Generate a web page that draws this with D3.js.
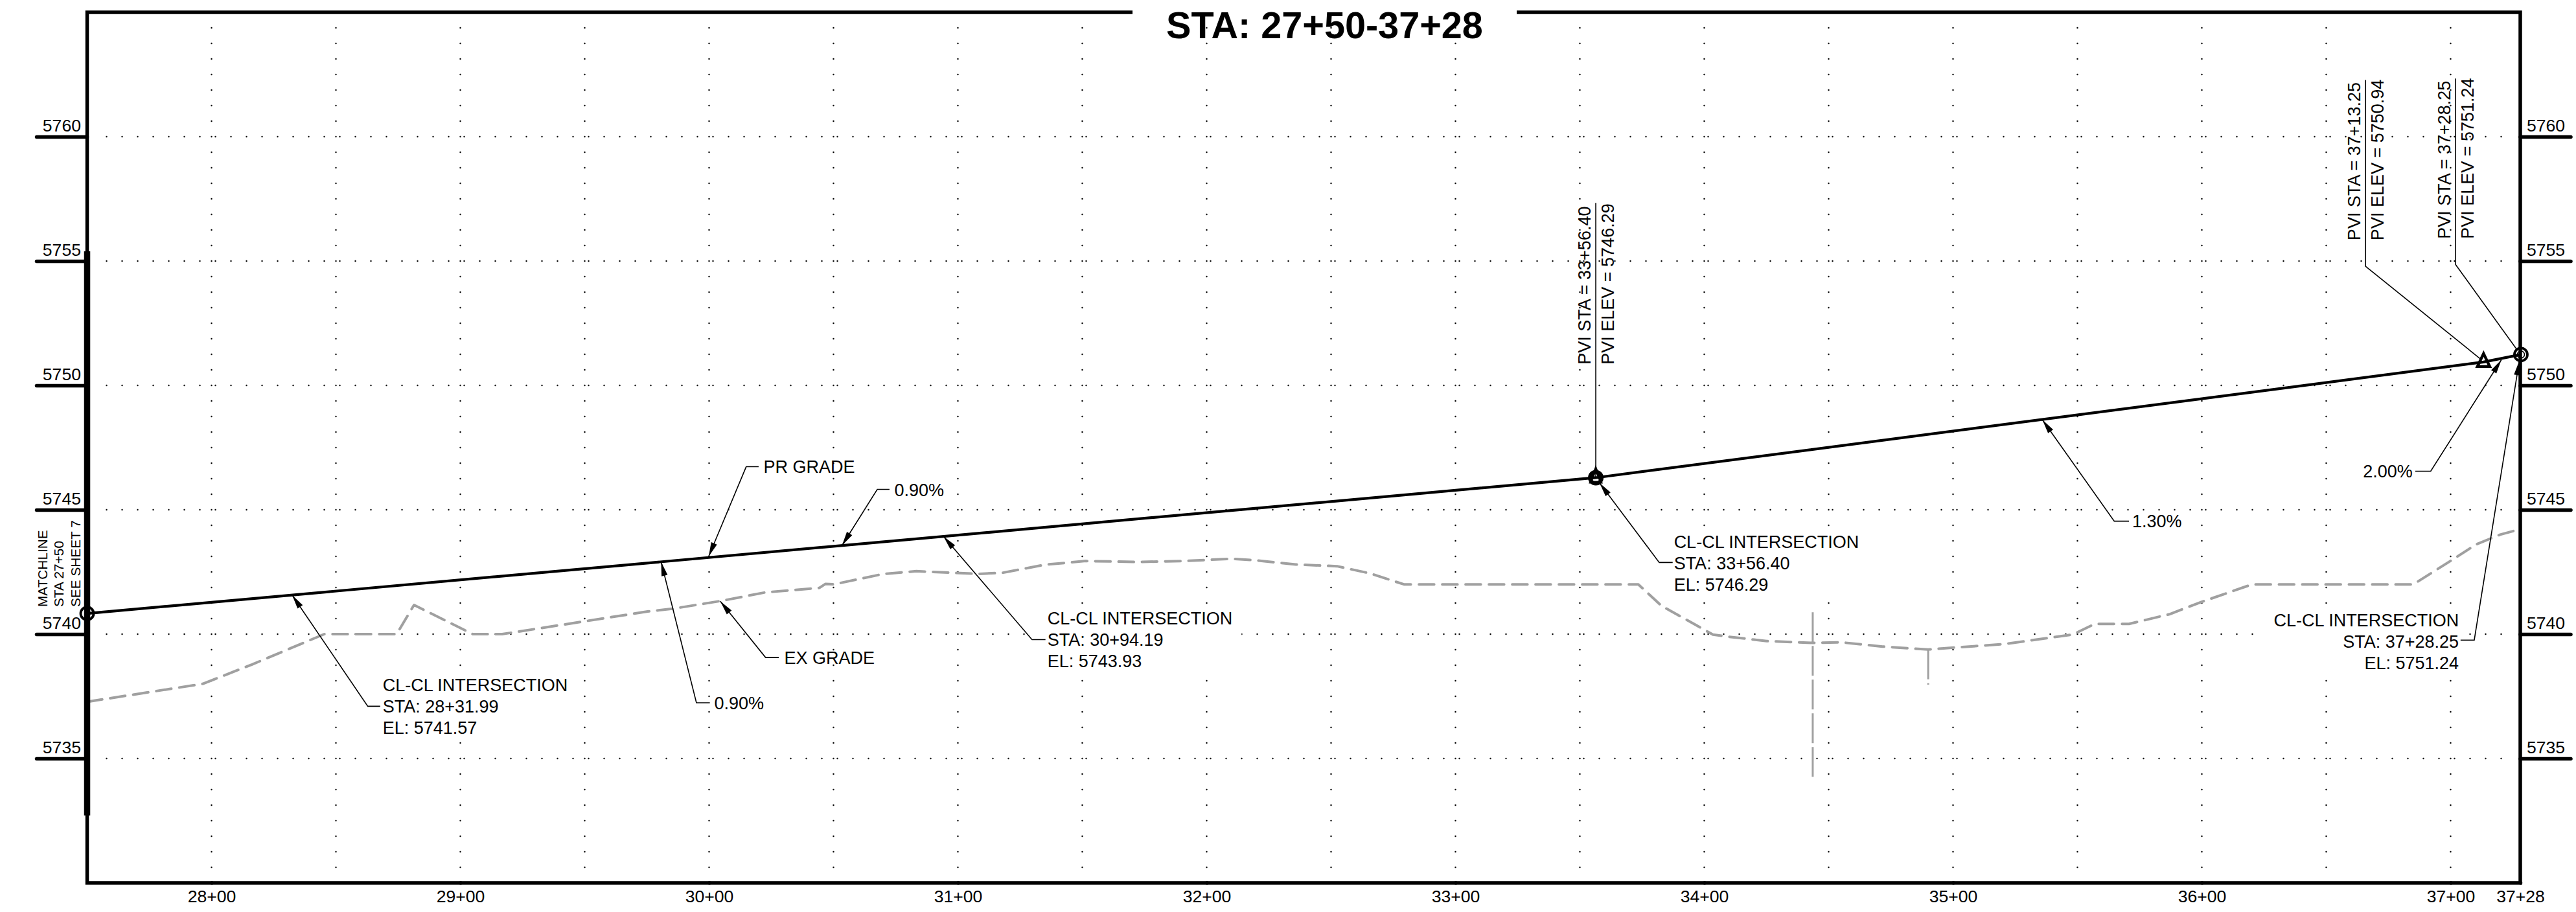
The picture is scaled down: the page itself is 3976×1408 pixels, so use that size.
<!DOCTYPE html>
<html>
<head>
<meta charset="utf-8">
<script src="https://cdn.jsdelivr.net/npm/d3@7"></script>
<style>
html,body{margin:0;padding:0;background:#fff}
svg{display:block}
text{font-family:"Liberation Sans",Arial,sans-serif;fill:#000}
</style>
</head>
<body>
<script>
// ---------- chart values (station in feet, elevation in feet) ----------
const titleText = "STA: 27+50-37+28";
const stationTicks = [2800,2900,3000,3100,3200,3300,3400,3500,3600,3700,3728];
const elevationTicks = [5735,5740,5745,5750,5755,5760];
const gridStations = [2800,2850,2900,2950,3000,3050,3100,3150,3200,3250,3300,3350,3400,3450,3500,3550,3600,3650,3700];

const proposedStation = [2750,3356.40,3713.25,3728.25];
const proposedElevation = [5740.83,5746.29,5750.94,5751.24];

const existingStation = [2750,2796.4,2816.3,2845.3,2874.4,2881.4,2905,2916.8,2975.3,2985.3,3004.5,3022.7,3044.3,3046.8,3050.1,3070,3083.3,3108.2,3118.2,3134.8,3151.4,3171.4,3191.3,3209.5,3219.5,3235.8,3252.4,3265.7,3279.3,3373.5,3382.8,3403.5,3408.5,3425.1,3443.4,3455.1,3471.6,3490,3496.2,3520.5,3548,3557,3570.7,3587,3600,3620.2,3685,3700.4,3710.1,3719.9,3728];
const existingElevation = [5737.28,5738,5738.78,5740,5740,5741.17,5740,5740,5740.91,5741.02,5741.33,5741.68,5741.86,5742.02,5742,5742.42,5742.53,5742.42,5742.47,5742.79,5742.94,5742.9,5742.94,5743.03,5742.97,5742.8,5742.73,5742.44,5742,5742,5741.14,5739.98,5739.91,5739.72,5739.65,5739.67,5739.5,5739.38,5739.43,5739.6,5739.98,5740.41,5740.41,5740.8,5741.3,5742,5742,5742.97,5743.6,5744,5744.22];

const spurStation = [3443.6,3490];
const spurTop = [5740.88,5739.38];
const spurBottom = [5734.25,5737.97];

const matchlineStation = 2750;
const matchlineElevation = [5755.39,5732.71];
const matchlineLines = ["MATCHLINE","STA 27+50","SEE SHEET 7"];

// callouts: label lines, arrow tip, elbow, leader end, text anchor
const calloutLines = [
  ["CL-CL INTERSECTION","STA: 28+31.99","EL: 5741.57"],
  ["PR GRADE"],
  ["0.90%"],
  ["CL-CL INTERSECTION","STA: 30+94.19","EL: 5743.93"],
  ["EX GRADE"],
  ["0.90%"],
  ["CL-CL INTERSECTION","STA: 33+56.40","EL: 5746.29"],
  ["1.30%"],
  ["2.00%"],
  ["CL-CL INTERSECTION","STA: 37+28.25","EL: 5751.24"]
];
const calloutAlign = ["start","start","start","start","start","start","start","start","end","end"];
const calloutMasked = [true,false,false,true,false,false,true,false,false,true];
const tipStation = [2832.4,2999.8,3053.4,3094.19,3004.5,2980.7,3357.9,3535.9,3720.4,3727.6];
const tipElevation = [5741.57,5743.12,5743.56,5743.93,5741.32,5742.91,5746.08,5748.62,5751.03,5750.98];
const elbowStation = [2862.8,3014.9,3067.6,3129.8,3022.7,2994.9,3381.9,3564.8,3692,3709.5];
const elbowElevation = [5737.1,5746.73,5745.82,5739.78,5739.06,5737.24,5742.88,5744.54,5746.55,5739.76];
const endStation = [2867.8,3019.9,3072.5,3135.2,3028,3000.3,3387.3,3570.7,3685.8,3704];
const textStation = [2868.8,3021.9,3074.5,3136,3030.2,3002.1,3387.8,3572,3684.7,3703.3];
const textElevation = [5737.72,5746.49,5745.55,5740.39,5738.8,5736.99,5743.47,5744.29,5746.3,5740.32];

// PVI labels: leader top, optional elbow, foot on the profile
const pviStation = ["PVI STA = 33+56.40","PVI STA = 37+13.25","PVI STA = 37+28.25"];
const pviElevation = ["PVI ELEV = 5746.29","PVI ELEV = 5750.94","PVI ELEV = 5751.24"];
const pviLeaderStation = [3356.4,3665.8,3702];
const pviLeaderTop = [5757.34,5762.28,5762.34];
const pviElbow = [5746.29,5754.79,5754.86];
const pviFootStation = [3356.4,3711.8,3726.7];
const pviFootElevation = [5746.29,5751.08,5751.43];
const pviTextElevation = [5750.84,5755.83,5755.89];

// ---------- drawing ----------
const W = 3976, H = 1408;
const x = d3.scaleLinear().domain([2750,3728]).range([134.5,3890]);
const y = d3.scaleLinear().domain([5730,5765]).range([1363,19]);
const fmtSta = s => Math.floor(s/100) + "+" + String(s%100).padStart(2,"0");

const svg = d3.select("body").append("svg").attr("width",W).attr("height",H).attr("viewBox",`0 0 ${W} ${H}`);
svg.append("rect").attr("width",W).attr("height",H).attr("fill","#fff");

// dotted grid
const DOT = 24, gridG = svg.append("g");
const rows = d3.range(y(5765)+DOT, y(5730)-DOT+1, DOT);
gridG.selectAll("circle.v").data(d3.cross(gridStations, rows)).join("circle").attr("class","v")
  .attr("cx",d=>x(d[0])).attr("cy",d=>d[1]).attr("r",1.2).attr("fill","#000");
const cols = d3.range(x(2750)+30, x(3700)+80, DOT);
gridG.selectAll("circle.h").data(d3.cross(elevationTicks, cols)).join("circle").attr("class","h")
  .attr("cx",d=>d[1]).attr("cy",d=>y(d[0])).attr("r",1.2).attr("fill","#000");

const maskG = svg.append("g");

// existing grade
const line = d3.line().x(d=>x(d[0])).y(d=>y(d[1]));
const grey = "#a0a0a0";
svg.append("path").datum(d3.zip(existingStation,existingElevation)).attr("d",line)
  .attr("fill","none").attr("stroke",grey).attr("stroke-width",4)
  .attr("stroke-linecap","round").attr("stroke-linejoin","round").attr("stroke-dasharray","23.5 12.5");
svg.selectAll("path.spur").data(spurStation).join("path").attr("class","spur")
  .attr("d",(d,i)=>line([[d,spurTop[i]],[d,spurBottom[i]]]))
  .attr("fill","none").attr("stroke",grey).attr("stroke-width",3).attr("stroke-dasharray","46 6");

// frame
svg.append("rect").attr("x",x(2750)).attr("y",y(5765)).attr("width",x(3728)-x(2750)).attr("height",y(5730)-y(5765))
  .attr("fill","none").attr("stroke","#000").attr("stroke-width",5.5);
svg.append("path").datum([[matchlineStation,matchlineElevation[0]],[matchlineStation,matchlineElevation[1]]])
  .attr("d",line).attr("stroke","#000").attr("stroke-width",9.5).attr("fill","none");

// axes
function styleAxis(g){
  g.select(".domain").remove();
  g.selectAll(".tick line").attr("stroke","#000").attr("stroke-width",5.5).attr("stroke-linecap","round");
  g.selectAll(".tick text").attr("font-size",26.6).attr("font-family","Liberation Sans").attr("fill","#000");
}
svg.append("g").attr("transform",`translate(${x(2750)},0)`)
  .call(d3.axisLeft(y).tickValues(elevationTicks).tickSize(78).tickFormat(d3.format("d")))
  .call(styleAxis).call(g=>g.selectAll(".tick text").attr("x",-9.5).attr("y",-9).attr("dy",0));
svg.append("g").attr("transform",`translate(${x(3728)},0)`)
  .call(d3.axisRight(y).tickValues(elevationTicks).tickSize(78).tickFormat(d3.format("d")))
  .call(styleAxis).call(g=>g.selectAll(".tick text").attr("x",10).attr("y",-9).attr("dy",0));
svg.append("g").attr("transform",`translate(0,${y(5730)})`)
  .call(d3.axisBottom(x).tickValues(stationTicks).tickSize(0).tickFormat(fmtSta))
  .call(styleAxis).call(g=>g.selectAll(".tick text").attr("y",30).attr("dy",0));

// title
svg.append("rect").attr("x",1748).attr("y",8).attr("width",593).attr("height",24).attr("fill","#fff");
svg.append("text").attr("x",2044.5).attr("y",59).attr("text-anchor","middle")
  .attr("font-size",57.6).attr("font-weight","bold").text(titleText);

// proposed grade
svg.append("path").datum(d3.zip(proposedStation,proposedElevation)).attr("d",line)
  .attr("fill","none").attr("stroke","#000").attr("stroke-width",4.2);

// markers
const mark = svg.append("g").attr("fill","none").attr("stroke","#000");
mark.append("circle").attr("cx",x(proposedStation[0])).attr("cy",y(proposedElevation[0])).attr("r",10).attr("stroke-width",3.8);
const px1 = x(proposedStation[1]), py1 = y(proposedElevation[1]);
mark.append("circle").attr("cx",px1).attr("cy",py1).attr("r",9).attr("stroke-width",6);
mark.append("path").attr("d",`M${px1},${py1-14}L${px1+8},${py1+7}L${px1-8},${py1+7}Z`).attr("stroke-width",4);
const px2 = x(proposedStation[2]), py2 = y(proposedElevation[2]);
mark.append("path").attr("d",`M${px2},${py2-13}L${px2+9.5},${py2+7}L${px2-9.5},${py2+7}Z`).attr("stroke-width",4.4).attr("stroke-linejoin","miter");
const px3 = x(proposedStation[3]), py3 = y(proposedElevation[3]);
mark.append("circle").attr("cx",px3).attr("cy",py3).attr("r",10).attr("stroke-width",3.8);
mark.append("circle").attr("cx",px3).attr("cy",py3).attr("r",5.5).attr("stroke-width",1.6);

// callouts
const LINE_H = 33, LABEL = 27;
const callG = svg.append("g");
calloutLines.forEach((lines,i)=>{
  const tip=[x(tipStation[i]),y(tipElevation[i])], elb=[x(elbowStation[i]),y(elbowElevation[i])], end=[x(endStation[i]),y(elbowElevation[i])];
  callG.append("path").attr("d",d3.line()([tip,elb,end])).attr("fill","none").attr("stroke","#000").attr("stroke-width",1.6);
  const a=Math.atan2(elb[1]-tip[1],elb[0]-tip[0]), L=22, w=4.8;
  const bx=tip[0]+L*Math.cos(a), by=tip[1]+L*Math.sin(a);
  callG.append("path").attr("d",d3.line()([tip,[bx-w*Math.sin(a),by+w*Math.cos(a)],[bx+w*Math.sin(a),by-w*Math.cos(a)]])+"Z").attr("fill","#000");
  const t=callG.append("text").attr("text-anchor",calloutAlign[i]).attr("font-size",LABEL);
  lines.forEach((s,j)=>t.append("tspan").attr("x",x(textStation[i])).attr("y",y(textElevation[i])+j*LINE_H).text(s));
  if(calloutMasked[i]){
    const b=t.node().getBBox();
    maskG.append("rect").attr("x",b.x-14).attr("y",b.y-6).attr("width",b.width+28).attr("height",b.height+12).attr("fill","#fff");
  }
});

// PVI labels
pviStation.forEach((s,i)=>{
  const lx=x(pviLeaderStation[i]);
  svg.append("path").attr("d",d3.line()([[lx,y(pviLeaderTop[i])],[lx,y(pviElbow[i])],[x(pviFootStation[i]),y(pviFootElevation[i])]]))
    .attr("fill","none").attr("stroke","#000").attr("stroke-width",1.6);
  const by=y(pviTextElevation[i]);
  svg.append("text").attr("transform",`translate(${lx-8.4},${by}) rotate(-90)`).attr("font-size",LABEL).text(s);
  svg.append("text").attr("transform",`translate(${lx+28},${by}) rotate(-90)`).attr("font-size",LABEL).text(pviElevation[i]);
});

// matchline note
matchlineLines.forEach((s,i)=>{
  svg.append("text").attr("transform",`translate(${72.5+i*25.5},937) rotate(-90)`).attr("font-size",20.8).text(s);
});
</script>
</body>
</html>
